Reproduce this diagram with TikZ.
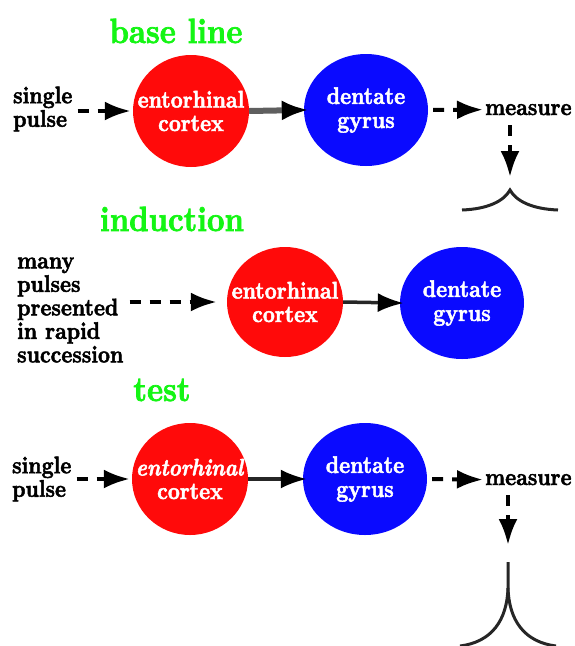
\documentclass[tikz,border=0pt]{standalone}
\usepackage{fontspec}
\setmainfont{lmroman10}[Extension=.otf, UprightFont=*-regular, BoldFont=*-bold,
  ItalicFont=*-italic, BoldItalicFont=*-bolditalic,
  BoldFeatures={FakeStretch=0.87, FakeBold=2}, BoldItalicFeatures={FakeStretch=0.87, FakeBold=2}]
\usetikzlibrary{arrows.meta,shapes.geometric,calc}
\definecolor{ttlgreen}{RGB}{20,245,20}
\definecolor{ecred}{RGB}{255,10,10}
\definecolor{dgblue}{RGB}{10,10,255}
\definecolor{grayline}{RGB}{95,95,95}
\tikzset{
  lbl/.style={font=\fontsize{24}{23.5}\selectfont\bfseries, inner sep=0pt, align=left},
  ttl/.style={font=\fontsize{35}{40}\selectfont\bfseries, text=ttlgreen, inner sep=0pt},
  ecnode/.style={ellipse, fill=ecred, minimum width=116pt, minimum height=112pt,
     inner xsep=-14pt, inner ysep=0pt,
     text=white, align=center, font=\fontsize{24}{23.5}\selectfont\bfseries},
  dgnode/.style={ellipse, fill=dgblue, minimum width=124pt, minimum height=112pt,
     inner xsep=-6pt, inner ysep=0pt,
     text=white, align=center, font=\fontsize{24}{24}\selectfont\bfseries},
  dasharrow/.style={line width=4pt, dash pattern=on 11pt off 9pt, -{Latex[length=26pt,width=19pt]}},
  solidarrow/.style={line width=3.5pt, draw=black!85, -{Latex[length=26pt,width=19pt,color=black]}},
  grayarrow/.style={line width=6pt, draw=grayline, -{Latex[length=27pt,width=20pt,color=black]}},
  cuspline/.style={line width=3pt, draw=black!85},
}
\begin{document}
\begin{tikzpicture}[x=1pt,y=-1pt]
\useasboundingbox (0,0) rectangle (575,646);

% ---------- base line ----------
\node[ttl, anchor=base] (t1) at (176,43) {base line};
\node[lbl, anchor=west] (sp1) at (13,109) {single\\pulse};
\node[ecnode] (ec1) at (191,111) {entorhinal\\cortex};
\node[dgnode] (dg1) at (366,110) {dentate\\gyrus};
\node[lbl, anchor=base west] (me1) at (485,115) {measure};
\coordinate (cusp1) at (510,190);

\draw[dasharrow, shorten >=2pt] ([xshift=5pt]sp1.east |- ec1.west) -- (ec1.west);
\draw[grayarrow, shorten >=-5pt] (ec1.east) -- (dg1.west);
\draw[dasharrow, shorten <=5pt, shorten >=2pt] (dg1.east) -- (me1.west);
\draw[dasharrow] ([yshift=-10pt]me1.south -| cusp1) -- ([yshift=13pt]cusp1);
\draw[cuspline] (462,210) .. controls (488,209) and (504,201) .. (cusp1)
                .. controls (516,201) and (532,209) .. (558,210);

% ---------- induction ----------
\node[ttl, anchor=base] (t2) at (172,231) {induction};
\node[lbl, anchor=west] (mp) at (17,310) {many\\pulses\\presented\\in rapid\\succession};
\node[ecnode, minimum height=110pt] (ec2) at (285,302) {entorhinal\\cortex};
\node[dgnode] (dg2) at (462,303) {dentate\\gyrus};

\draw[dasharrow, shorten >=10pt] ([xshift=6pt]mp.east |- ec2.west) -- (ec2.west);
\draw[solidarrow, shorten >=-4pt] (ec2.east) -- (dg2.west);

% ---------- test ----------
\node[ttl, anchor=base] (t3) at (162,401) {test};
\node[lbl, anchor=west] (sp2) at (12,479) {single\\pulse};
\node[ecnode] (ec3) at (190,479) {\textit{entorhinal}\\cortex};
\node[dgnode] (dg3) at (365,479) {dentate\\gyrus};
\node[lbl, anchor=base west] (me2) at (485,485) {measure};
\coordinate (cusp2) at (508,562);

\draw[dasharrow, shorten >=2pt] ([xshift=5pt]sp2.east |- ec3.west) -- (ec3.west);
\draw[solidarrow, shorten >=-4pt] (ec3.east) -- (dg3.west);
\draw[dasharrow, shorten <=5pt, shorten >=2pt] (dg3.east) -- (me2.west);
\draw[dasharrow] ([yshift=-10pt]me2.south -| cusp2) -- ([yshift=17pt]cusp2);
\draw[cuspline] (cusp2) -- (508,588) .. controls (507,620) and (492,642) .. (460,646);
\draw[cuspline] (508,588) .. controls (509,620) and (524,642) .. (556,646);
\end{tikzpicture}
\end{document}
